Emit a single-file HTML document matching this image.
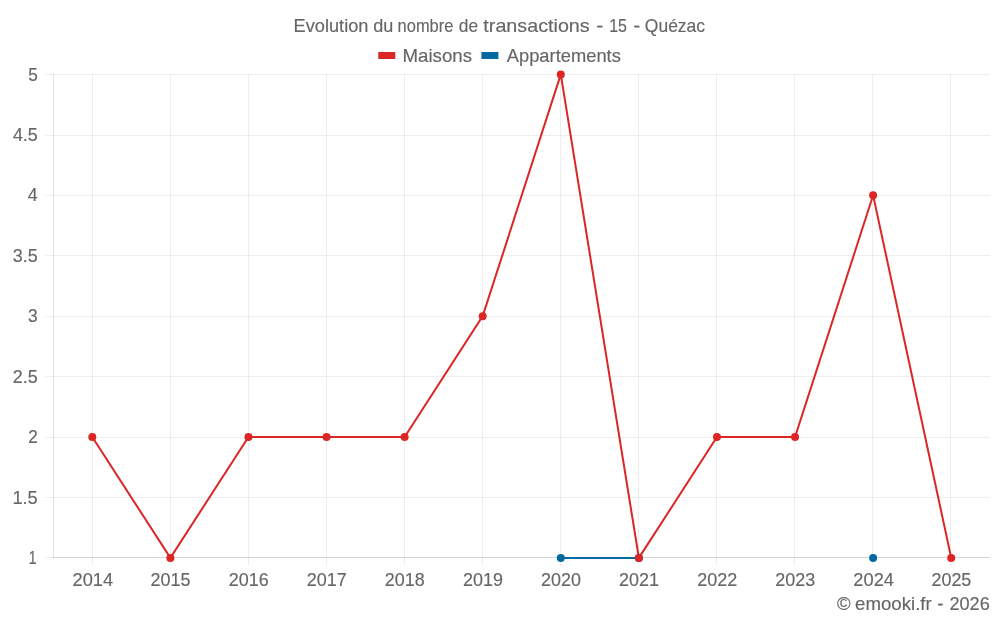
<!DOCTYPE html>
<html lang="fr"><head><meta charset="utf-8"><title>Evolution du nombre de transactions - 15 - Quézac</title>
<style>html,body{margin:0;padding:0;background:#fff}svg{display:block}</style></head>
<body>
<svg width="1000" height="625" viewBox="0 0 1000 625">
<rect width="1000" height="625" fill="#fff"/>
<g stroke="#000" stroke-opacity="0.065" stroke-width="1" fill="none"><line x1="45" x2="990" y1="557.5" y2="557.5"/><line x1="45" x2="990" y1="497.5" y2="497.5"/><line x1="45" x2="990" y1="437.5" y2="437.5"/><line x1="45" x2="990" y1="376.5" y2="376.5"/><line x1="45" x2="990" y1="316.5" y2="316.5"/><line x1="45" x2="990" y1="255.5" y2="255.5"/><line x1="45" x2="990" y1="195.5" y2="195.5"/><line x1="45" x2="990" y1="135.5" y2="135.5"/><line x1="45" x2="990" y1="74.5" y2="74.5"/><line x1="92.5" x2="92.5" y1="74" y2="565.5"/><line x1="170.5" x2="170.5" y1="74" y2="565.5"/><line x1="248.5" x2="248.5" y1="74" y2="565.5"/><line x1="326.5" x2="326.5" y1="74" y2="565.5"/><line x1="404.5" x2="404.5" y1="74" y2="565.5"/><line x1="482.5" x2="482.5" y1="74" y2="565.5"/><line x1="560.5" x2="560.5" y1="74" y2="565.5"/><line x1="638.5" x2="638.5" y1="74" y2="565.5"/><line x1="716.5" x2="716.5" y1="74" y2="565.5"/><line x1="794.5" x2="794.5" y1="74" y2="565.5"/><line x1="872.5" x2="872.5" y1="74" y2="565.5"/><line x1="950.5" x2="950.5" y1="74" y2="565.5"/></g>
<g stroke="#000" stroke-opacity="0.1" stroke-width="1" fill="none"><line x1="53.5" x2="53.5" y1="74" y2="558"/><line x1="53" x2="990" y1="557.5" y2="557.5"/></g>
<g font-family="'Liberation Sans', Arial, sans-serif" font-size="18.5" fill="#666" stroke="#666" stroke-width="0.15">
<text y="32"><tspan x="293.60" textLength="74.82" lengthAdjust="spacingAndGlyphs">Evolution</tspan> <tspan x="373.29" textLength="20.09" lengthAdjust="spacingAndGlyphs">du</tspan> <tspan x="397.60" textLength="55.76" lengthAdjust="spacingAndGlyphs">nombre</tspan> <tspan x="458.82" textLength="19.34" lengthAdjust="spacingAndGlyphs">de</tspan> <tspan x="483.35" textLength="106.37" lengthAdjust="spacingAndGlyphs">transactions</tspan> <tspan x="596.15" textLength="7.06" lengthAdjust="spacingAndGlyphs">-</tspan> <tspan x="609.16" textLength="17.85" lengthAdjust="spacingAndGlyphs">15</tspan> <tspan x="633.35" textLength="7.06" lengthAdjust="spacingAndGlyphs">-</tspan> <tspan x="644.82" textLength="60.24" lengthAdjust="spacingAndGlyphs">Quézac</tspan></text>
<text y="62"><tspan x="402.56" textLength="69.47" lengthAdjust="spacingAndGlyphs">Maisons</tspan></text>
<text y="62"><tspan x="506.77" textLength="114.08" lengthAdjust="spacingAndGlyphs">Appartements</tspan></text>
<text y="564"><tspan x="28.81" textLength="7.79" lengthAdjust="spacingAndGlyphs">1</tspan></text>
<text y="504"><tspan x="12.39" textLength="25.35" lengthAdjust="spacingAndGlyphs">1.5</tspan></text>
<text y="443"><tspan x="28.14" textLength="9.51" lengthAdjust="spacingAndGlyphs">2</tspan></text>
<text y="383"><tspan x="12.80" textLength="24.93" lengthAdjust="spacingAndGlyphs">2.5</tspan></text>
<text y="322"><tspan x="28.01" textLength="9.66" lengthAdjust="spacingAndGlyphs">3</tspan></text>
<text y="262"><tspan x="12.74" textLength="24.99" lengthAdjust="spacingAndGlyphs">3.5</tspan></text>
<text y="201"><tspan x="27.68" textLength="9.91" lengthAdjust="spacingAndGlyphs">4</tspan></text>
<text y="141"><tspan x="12.88" textLength="24.84" lengthAdjust="spacingAndGlyphs">4.5</tspan></text>
<text y="81"><tspan x="28.13" textLength="9.53" lengthAdjust="spacingAndGlyphs">5</tspan></text>
<text y="586"><tspan x="72.52" textLength="40.60" lengthAdjust="spacingAndGlyphs">2014</tspan></text>
<text y="586"><tspan x="150.62" textLength="39.86" lengthAdjust="spacingAndGlyphs">2015</tspan></text>
<text y="586"><tspan x="228.70" textLength="39.97" lengthAdjust="spacingAndGlyphs">2016</tspan></text>
<text y="586"><tspan x="306.79" textLength="40.07" lengthAdjust="spacingAndGlyphs">2017</tspan></text>
<text y="586"><tspan x="384.87" textLength="39.86" lengthAdjust="spacingAndGlyphs">2018</tspan></text>
<text y="586"><tspan x="462.95" textLength="39.97" lengthAdjust="spacingAndGlyphs">2019</tspan></text>
<text y="586"><tspan x="541.04" textLength="39.86" lengthAdjust="spacingAndGlyphs">2020</tspan></text>
<text y="586"><tspan x="619.12" textLength="39.97" lengthAdjust="spacingAndGlyphs">2021</tspan></text>
<text y="586"><tspan x="697.20" textLength="40.07" lengthAdjust="spacingAndGlyphs">2022</tspan></text>
<text y="586"><tspan x="775.29" textLength="39.97" lengthAdjust="spacingAndGlyphs">2023</tspan></text>
<text y="586"><tspan x="853.36" textLength="40.60" lengthAdjust="spacingAndGlyphs">2024</tspan></text>
<text y="586"><tspan x="931.46" textLength="39.86" lengthAdjust="spacingAndGlyphs">2025</tspan></text>
<text y="610"><tspan x="837.07" textLength="13.59" lengthAdjust="spacingAndGlyphs">©</tspan> <tspan x="855.06" textLength="76.65" lengthAdjust="spacingAndGlyphs">emooki.fr</tspan> <tspan x="937.26" textLength="6.24" lengthAdjust="spacingAndGlyphs">-</tspan> <tspan x="949.39" textLength="40.38" lengthAdjust="spacingAndGlyphs">2026</tspan></text>
</g>
<rect x="378.3" y="52" width="17" height="7" fill="#dc2626"/>
<rect x="481.4" y="52" width="17" height="7" fill="#0369a1"/>
<polyline points="92.29,437.02 170.38,557.90 248.46,437.02 326.54,437.02 404.62,437.02 482.71,316.15 560.79,74.40 638.88,557.90 716.96,437.02 795.04,437.02 873.12,195.27 951.21,557.90" fill="none" stroke="#dc2626" stroke-width="2" stroke-linejoin="miter"/>
<line x1="560.79" x2="638.88" y1="557.9" y2="557.9" stroke="#0369a1" stroke-width="2"/>
<circle cx="560.79" cy="557.9" r="4" fill="#0369a1"/>
<circle cx="638.88" cy="557.9" r="4" fill="#0369a1"/>
<circle cx="873.12" cy="557.9" r="4" fill="#0369a1"/>
<circle cx="92.29" cy="437.02" r="4" fill="#dc2626"/>
<circle cx="170.38" cy="557.90" r="4" fill="#dc2626"/>
<circle cx="248.46" cy="437.02" r="4" fill="#dc2626"/>
<circle cx="326.54" cy="437.02" r="4" fill="#dc2626"/>
<circle cx="404.62" cy="437.02" r="4" fill="#dc2626"/>
<circle cx="482.71" cy="316.15" r="4" fill="#dc2626"/>
<circle cx="560.79" cy="74.40" r="4" fill="#dc2626"/>
<circle cx="638.88" cy="557.90" r="4" fill="#dc2626"/>
<circle cx="716.96" cy="437.02" r="4" fill="#dc2626"/>
<circle cx="795.04" cy="437.02" r="4" fill="#dc2626"/>
<circle cx="873.12" cy="195.27" r="4" fill="#dc2626"/>
<circle cx="951.21" cy="557.90" r="4" fill="#dc2626"/>
</svg>
</body></html>
